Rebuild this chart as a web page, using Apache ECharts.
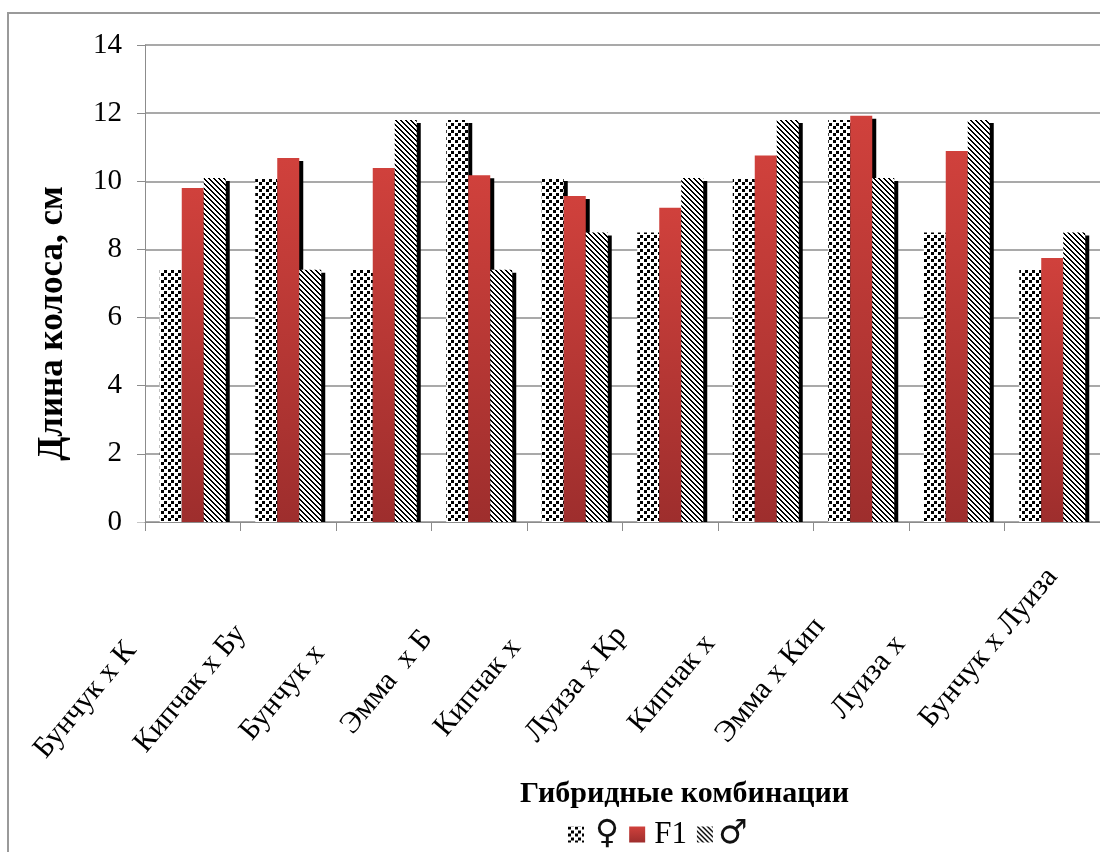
<!DOCTYPE html>
<html>
<head>
<meta charset="utf-8">
<script src="https://cdn.jsdelivr.net/npm/echarts@6/dist/echarts.min.js"></script>
<style>
  html, body { margin: 0; padding: 0; background: #fff; }
  #chart { width: 1100px; height: 852px; }
</style>
</head>
<body>
<div id="chart"></div>
<script>
// Hybrid combinations (labels as shown on the axis)
const categories = ['Бунчук х К', 'Кипчак х Бу', 'Бунчук х', 'Эмма  х Б', 'Кипчак х',
                    'Луиза х Кр', 'Кипчак х', 'Эмма х Кип', 'Луиза х', 'Бунчук х Луиза'];
// Ear length, cm
const femaleParent = [7.4, 10.1, 7.4, 11.8, 10.1, 8.5, 10.1, 11.8, 8.5, 7.4];
const hybridF1     = [9.8, 10.68, 10.39, 10.18, 9.57, 9.22, 10.76, 11.92, 10.89, 7.75];
const maleParent   = [10.1, 7.4, 11.8, 7.4, 8.5, 10.1, 11.8, 10.1, 11.8, 8.5];
const seriesNames  = ['♀', 'F1', '♂'];
const yTicks = { min: 0, max: 14, interval: 2 };

// Label offsets along the rotated text (clipped labels sit further from the axis)
const labelOffset = [96, 74, 100, 81, 92, 76, 87, 65, 88, 0];

const FONT = "'Liberation Serif', 'Times New Roman', serif";
const SYMBOL_FONT = "'DejaVu Sans', sans-serif";

// Small repeating fills for the parent series
function dotsPattern() {
  const n = 7;
  const c = document.createElement('canvas');
  c.width = n; c.height = n;
  const g = c.getContext('2d');
  g.fillStyle = '#fff'; g.fillRect(0, 0, n, n);
  g.fillStyle = '#000';
  g.fillRect(0, 0, 3, 3);
  g.fillRect(3, 4, 3, 3);
  return c;
}
function hatchPattern() {
  const n = 5;
  const c = document.createElement('canvas');
  c.width = n; c.height = n;
  const g = c.getContext('2d');
  g.fillStyle = '#fff'; g.fillRect(0, 0, n, n);
  g.fillStyle = '#000';
  for (let y = 0; y < n; y++) {
    for (let x = 0; x < n; x++) {
      if (((x - y) % n + n) % n < 2) g.fillRect(x, y, 1, 1);
    }
  }
  return c;
}

const dotsFill = { image: dotsPattern(), repeat: 'repeat' };
const hatchFill = { image: hatchPattern(), repeat: 'repeat' };
const redFill = new echarts.graphic.LinearGradient(0, 0, 0, 1, [
  { offset: 0, color: '#d0413c' },
  { offset: 1, color: '#9e2e2d' }
]);

const barShadow = { shadowColor: '#000', shadowBlur: 0, shadowOffsetX: 4, shadowOffsetY: 3 };

function barSeries(name, data, fill) {
  return {
    name: name,
    type: 'bar',
    data: data,
    barWidth: 22,
    barGap: '0%',
    itemStyle: Object.assign({ color: fill }, barShadow),
    emphasis: { disabled: true }
  };
}

const outerFrame = {
  type: 'rect',
  z: 0,
  shape: { x: 8, y: 13, width: 1300, height: 1000 },
  style: { fill: 'none', stroke: '#9a9a9a', lineWidth: 2 },
  silent: true
};

const chart = echarts.init(document.getElementById('chart'), null, { renderer: 'canvas' });
chart.setOption({
  animation: false,
  backgroundColor: '#fff',
  textStyle: { fontFamily: FONT, color: '#000' },
  graphic: [outerFrame],
  grid: { left: 145, top: 45, right: -12, bottom: 330 },
  legend: {
    left: 563,
    top: 813,
    itemWidth: 16,
    itemHeight: 16,
    itemGap: 10,
    icon: 'rect',
    selectedMode: false,
    itemStyle: { shadowColor: 'rgba(0,0,0,0)', shadowOffsetX: 0, shadowOffsetY: 0 },
    formatter: function (name) {
      if (name === '♀') return '{fem|' + name + '}';
      if (name === '♂') return '{mal|' + name + '}';
      return '{txt|' + name + '}';
    },
    textStyle: {
      fontFamily: FONT, fontSize: 31, color: '#000',
      rich: {
        txt: { fontFamily: FONT, fontSize: 31, color: '#000', padding: [0, 0, 0, 4] },
        fem: { fontFamily: SYMBOL_FONT, fontSize: 33, color: '#111', padding: [0, 0, 0, 6] },
        mal: { fontFamily: SYMBOL_FONT, fontSize: 33, color: '#111', padding: [0, 0, 0, 0] }
      }
    },
    data: seriesNames
  },
  xAxis: {
    type: 'category',
    z: 4,
    data: categories.map((c, i) => ({ value: c, textStyle: { padding: [0, labelOffset[i], 0, 0] } })),
    boundaryGap: true,
    axisLine: { lineStyle: { color: '#8c8c8c', width: 1 } },
    axisTick: { show: true, length: 9, alignWithLabel: false, lineStyle: { color: '#8c8c8c' } },
    axisLabel: {
      interval: 0,
      rotate: 50,
      margin: 50,
      hideOverlap: false,
      fontFamily: FONT,
      fontSize: 30,
      color: '#000'
    },
    name: 'Гибридные комбинации',
    nameLocation: 'middle',
    nameGap: 257,
    nameTextStyle: { fontFamily: FONT, fontSize: 30, fontWeight: 'bold', color: '#000', padding: [0, 0, 0, 124] }
  },
  yAxis: {
    type: 'value',
    min: yTicks.min,
    max: yTicks.max,
    interval: yTicks.interval,
    axisLine: { show: true, lineStyle: { color: '#8c8c8c', width: 1 } },
    axisTick: { show: true, length: 8, lineStyle: { color: '#8c8c8c' } },
    splitLine: { show: true, lineStyle: { color: '#8c8c8c', width: 1.5 } },
    axisLabel: { margin: 23, fontFamily: FONT, fontSize: 29, color: '#000' },
    name: 'Длина колоса, см',
    nameLocation: 'middle',
    nameRotate: 90,
    nameGap: 75,
    nameTextStyle: { fontFamily: FONT, fontSize: 35, fontWeight: 'bold', color: '#000', padding: [0, 80, 0, 0] }
  },
  series: [
    barSeries(seriesNames[0], femaleParent, dotsFill),
    barSeries(seriesNames[1], hybridF1, redFill),
    barSeries(seriesNames[2], maleParent, hatchFill)
  ]
});

// Keep the bar shadows inside the plot: mask the strip just under the category axis
const baseY = chart.convertToPixel({ yAxisIndex: 0 }, 0);
const leftX = chart.convertToPixel({ xAxisIndex: 0 }, 0) - 60;
chart.setOption({
  graphic: [outerFrame, {
    type: 'rect',
    z: 3,
    silent: true,
    shape: { x: leftX, y: baseY + 0.5, width: 1200, height: 6 },
    style: { fill: '#fff' }
  }]
});
</script>
</body>
</html>
